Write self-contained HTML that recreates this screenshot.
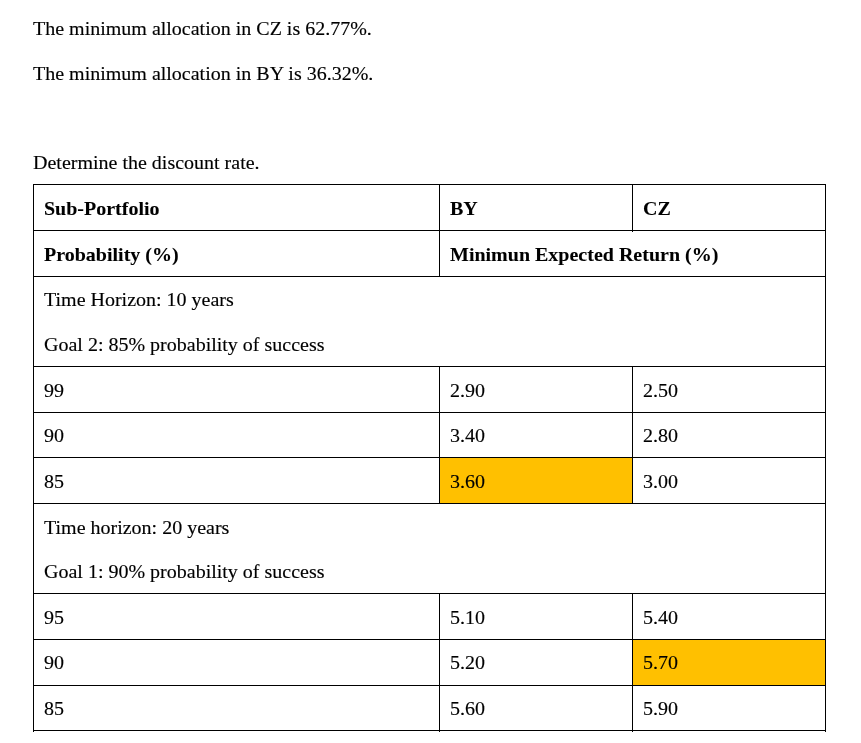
<!DOCTYPE html>
<html><head><meta charset="utf-8">
<style>
html,body{margin:0;padding:0;background:#fff;}
body{width:861px;height:743px;overflow:hidden;position:relative;font-family:"Liberation Serif",serif;font-size:20px;color:#000;}
.t{position:absolute;white-space:nowrap;line-height:22px;transform:scaleY(0.95);transform-origin:0 18px;-webkit-text-stroke:0.15px #000;}
.b{font-weight:bold;-webkit-text-stroke:0.08px #000;}
.h{position:absolute;background:#000;height:1px;}
.v{position:absolute;background:#000;width:1px;}
.hl{position:absolute;background:#ffc000;}
</style></head><body>
<div class="hl" style="left:440px;top:458px;width:192px;height:45px;"></div>
<div class="hl" style="left:633px;top:640px;width:192px;height:45px;"></div>
<div class="h" style="left:33px;top:184px;width:793px;"></div>
<div class="h" style="left:33px;top:230px;width:793px;"></div>
<div class="h" style="left:33px;top:276px;width:793px;"></div>
<div class="h" style="left:33px;top:366px;width:793px;"></div>
<div class="h" style="left:33px;top:412px;width:793px;"></div>
<div class="h" style="left:33px;top:457px;width:793px;"></div>
<div class="h" style="left:33px;top:503px;width:793px;"></div>
<div class="h" style="left:33px;top:593px;width:793px;"></div>
<div class="h" style="left:33px;top:639px;width:793px;"></div>
<div class="h" style="left:33px;top:685px;width:793px;"></div>
<div class="h" style="left:33px;top:730px;width:793px;"></div>
<div class="v" style="left:33px;top:184px;height:548px;"></div>
<div class="v" style="left:825px;top:184px;height:548px;"></div>
<div class="v" style="left:439px;top:184px;height:93px;"></div>
<div class="v" style="left:632px;top:184px;height:48px;"></div>
<div class="v" style="left:439px;top:366px;height:137px;"></div>
<div class="v" style="left:632px;top:366px;height:137px;"></div>
<div class="v" style="left:439px;top:593px;height:139px;"></div>
<div class="v" style="left:632px;top:593px;height:139px;"></div>
<div class="t" id="p1" style="left:33px;top:17px;">The minimum allocation in CZ is 62.77%.</div>
<div class="t" id="p2" style="left:33px;top:62px;">The minimum allocation in BY is 36.32%.</div>
<div class="t" id="p3" style="left:33px;top:151px;">Determine the discount rate.</div>
<div class="t b" id="c1" style="left:44px;top:197px;">Sub-Portfolio</div>
<div class="t b" id="c2" style="left:450px;top:197px;">BY</div>
<div class="t b" id="c3" style="left:643px;top:197px;">CZ</div>
<div class="t b" id="c4" style="left:44px;top:243px;">Probability (%)</div>
<div class="t b" id="c5" style="left:450px;top:243px;">Minimun Expected Return (%)</div>
<div class="t" id="c6" style="left:44px;top:288px;">Time Horizon: 10 years</div>
<div class="t" id="c7" style="left:44px;top:333px;">Goal 2: 85% probability of success</div>
<div class="t" id="c8" style="left:44px;top:516px;">Time horizon: 20 years</div>
<div class="t" id="c9" style="left:44px;top:560px;">Goal 1: 90% probability of success</div>
<div class="t" id="r0a" style="left:44px;top:379px;">99</div>
<div class="t" id="r0b" style="left:450px;top:379px;">2.90</div>
<div class="t" id="r0c" style="left:643px;top:379px;">2.50</div>
<div class="t" id="r1a" style="left:44px;top:424px;">90</div>
<div class="t" id="r1b" style="left:450px;top:424px;">3.40</div>
<div class="t" id="r1c" style="left:643px;top:424px;">2.80</div>
<div class="t" id="r2a" style="left:44px;top:470px;">85</div>
<div class="t" id="r2b" style="left:450px;top:470px;">3.60</div>
<div class="t" id="r2c" style="left:643px;top:470px;">3.00</div>
<div class="t" id="r3a" style="left:44px;top:606px;">95</div>
<div class="t" id="r3b" style="left:450px;top:606px;">5.10</div>
<div class="t" id="r3c" style="left:643px;top:606px;">5.40</div>
<div class="t" id="r4a" style="left:44px;top:651px;">90</div>
<div class="t" id="r4b" style="left:450px;top:651px;">5.20</div>
<div class="t" id="r4c" style="left:643px;top:651px;">5.70</div>
<div class="t" id="r5a" style="left:44px;top:697px;">85</div>
<div class="t" id="r5b" style="left:450px;top:697px;">5.60</div>
<div class="t" id="r5c" style="left:643px;top:697px;">5.90</div>
</body></html>
